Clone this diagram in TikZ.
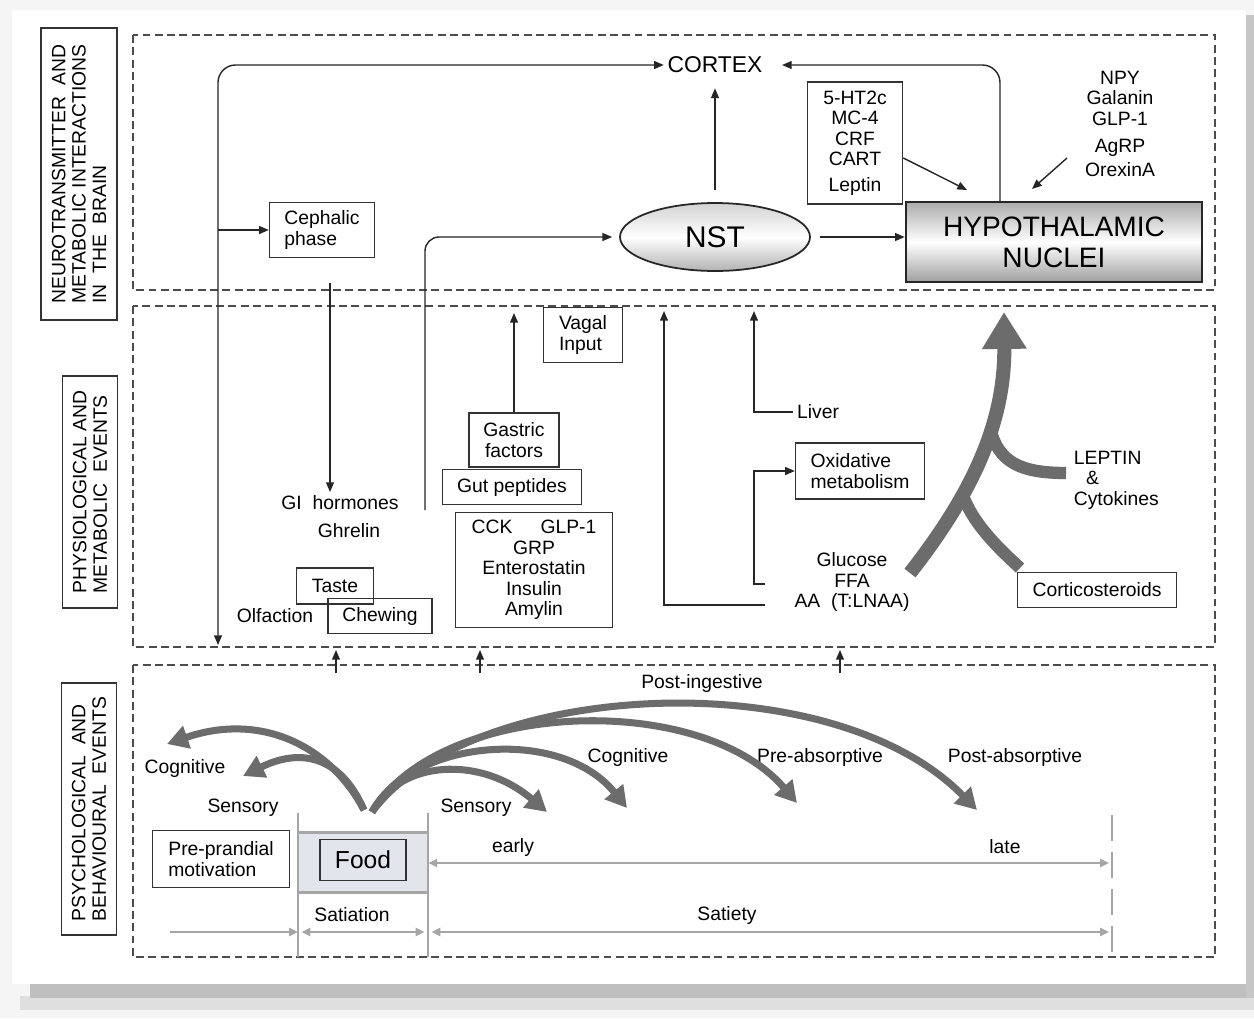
\documentclass[tikz,border=0pt]{standalone}
\usepackage{fontspec}
\setmainfont{Liberation Sans}
\usetikzlibrary{arrows.meta,shapes.geometric}

\definecolor{arrgray}{RGB}{108,108,108}
\definecolor{bandfill}{RGB}{226,229,236}
\newcommand{\lblfont}{\fontsize{11}{11.6}\selectfont}

\begin{document}
\begin{tikzpicture}[
  x=0.02cm, y=-0.02cm,
  panel/.style={draw=black!70, line width=0.7pt, dash pattern=on 4.5pt off 2.5pt},
  sect/.style={draw=black!80, line width=0.9pt, rotate=90, align=left, font=\lblfont, inner sep=2pt},
  box/.style={draw=black!80, line width=0.8pt, align=center, font=\lblfont, inner sep=2pt},
  lbl/.style={font=\lblfont, align=center, inner sep=2pt},
  conn/.style={draw=black!85, line width=0.8pt, -{Triangle[length=5.5pt,width=4.5pt]}},
  bigarr/.style={draw=arrgray, line width=4pt, -{Triangle[length=12pt,width=13pt]}},
  tline/.style={draw=gray!70, line width=1.3pt},
  tick/.style={draw=gray!70, line width=0.9pt}
]
\useasboundingbox (0,0) rectangle (1254,1018);

% ---- page frame ----
\fill[gray!8] (0,0) rectangle (1254,1018);
\fill[gray!25] (20,996) rectangle (1254,1010);
\fill[gray!50] (30,984) rectangle (1254,998);
\fill[gray!45] (1246,15) rectangle (1254,998);
\fill[white] (12,10) rectangle (1246,984);

% ---- panels ----
\draw[panel] (133,35) rectangle (1215,290);
\draw[panel] (133,306) rectangle (1215,647);
\draw[panel] (133,665) rectangle (1215,957);

\node[sect, minimum width=5.84cm, minimum height=1.52cm] (secbrain) at (79,174)
  {NEUROTRANSMITTER\ \ AND\\METABOLIC INTERACTIONS\\IN\ \ THE\ \ BRAIN};
\node[sect, minimum width=4.64cm, minimum height=1.1cm] (secphys) at (90,492)
  {PHYSIOLOGICAL AND\\METABOLIC\ \ EVENTS};
\node[sect, minimum width=5.04cm, minimum height=1.1cm] (secpsy) at (89,809)
  {PSYCHOLOGICAL\ \ AND\\BEHAVIOURAL\ \ EVENTS};

% ---- TOP: brain ----
\node[font=\fontsize{13}{14}\selectfont, inner sep=2pt] (cortex) at (715,65) {CORTEX};
\node[box, align=left, minimum width=2.1cm, minimum height=1.1cm] (ceph) at (322,230) {Cephalic\\phase};
\node[box, minimum width=1.9cm, minimum height=2.44cm] (hts) at (855,143)
  {5-HT2c\\MC-4\\CRF\\CART\\[3pt]Leptin};
\node[lbl] (npy) at (1120,124) {NPY\\Galanin\\GLP-1\\[4pt]AgRP\\[2pt]OrexinA};
\node[ellipse, draw=black!85, line width=1pt, minimum width=3.8cm, minimum height=1.36cm,
  top color=gray!35, bottom color=gray!60, middle color=white,
  font=\fontsize{17}{18}\selectfont] (nst) at (715,237) {NST};
\node[draw=black!85, line width=1.5pt, minimum width=5.92cm, minimum height=1.6cm,
  top color=gray!65, bottom color=gray!75, middle color=white, align=center,
  font=\fontsize{16}{17.5}\selectfont] (hypo) at (1054,242) {HYPOTHALAMIC\\NUCLEI};

% ---- MIDDLE: physiology ----
\node[box, align=left, minimum width=1.58cm, minimum height=1.1cm] (vagal) at (583,335) {Vagal\\Input};
\node[box, minimum width=1.8cm, minimum height=1.08cm] (gastric) at (514,440) {Gastric\\factors};
\node[box, minimum width=2.78cm, minimum height=0.7cm] (gut) at (512,487) {Gut peptides};
\node[box, minimum width=3.14cm, minimum height=2.3cm] (cck) at (534,570)
  {CCK\hspace{16pt}GLP-1\\GRP\\Enterostatin\\Insulin\\Amylin};
\node[lbl] (gi) at (340,503) {GI\ \ hormones};
\node[lbl] (ghrelin) at (349,531) {Ghrelin};
\node[box, minimum width=1.54cm, minimum height=0.72cm] (taste) at (335,586) {Taste};
\node[box, minimum width=2.08cm, minimum height=0.7cm] (chew) at (380,616) {Chewing};
\node[lbl] (olf) at (275,616) {Olfaction};
\node[lbl] (liver) at (818,412) {Liver};
\node[box, align=left, minimum width=2.58cm, minimum height=1.12cm] (oxid) at (860,471) {Oxidative\\metabolism};
\node[lbl] (fuel) at (852,582) {Glucose\\FFA\\AA\ \ (T:LNAA)};
\node[lbl, align=left, anchor=west] (leptin) at (1070,480) {LEPTIN\\\hspace{7pt}\&\\Cytokines};
\node[box, minimum width=3.18cm, minimum height=0.7cm] (cortico) at (1097,590) {Corticosteroids};

% ---- BOTTOM: behaviour ----
\node[box, align=left, minimum width=2.74cm, minimum height=1.14cm] (prep) at (221,859) {Pre-prandial\\motivation};
\node[fill=bandfill, minimum width=2.6cm, minimum height=1.18cm, inner sep=0pt] (band) at (363,862.5) {};
\draw[gray!70, line width=1.5pt] (band.north west) -- (band.north east) (band.south west) -- (band.south east);
\node[box, line width=1pt, font=\fontsize{14}{15}\selectfont, minimum width=1.72cm, minimum height=0.82cm] (food) at (363,860) {Food};

\node[lbl] (sensL) at (243,808) {Sensory};
\node[lbl] (sensR) at (476,808) {Sensory};
\node[lbl] (cogL) at (185,768) {Cognitive};
\node[lbl] (cogR) at (628,757) {Cognitive};
\node[lbl] (preabs) at (820,757) {Pre-absorptive};
\node[lbl] (postabs) at (1015,757) {Post-absorptive};
\node[lbl] (posting) at (702,683) {Post-ingestive};
\node[lbl] (early) at (513,847) {early};
\node[lbl] (late) at (1005,847) {late};
\node[lbl] (satn) at (352,915) {Satiation};
\node[lbl] (saty) at (727,915) {Satiety};

% ---- connectors: top ----
\coordinate (leftbot) at (218,645);
\coordinate (leftceph) at (218,230);
\coordinate (cephlow) at (330,283);
\coordinate (hyptop) at (1000,201);
\coordinate (htsin) at (967,190);
\coordinate (npyout) at (1067,158);
\coordinate (npyin) at (1032,189);
\draw[conn, {Triangle[length=5.5pt,width=4.5pt]}-{Triangle[length=5.5pt,width=4.5pt]}, rounded corners=10pt]
  (leftbot) |- (cortex.west);
\draw[conn] (leftceph) -- (ceph.west);
\draw[conn] (cephlow) -- (cephlow |- gi.north);
\draw[conn, shorten <=7pt, shorten >=6.5pt] (nst.north) -- (cortex.south);
\draw[conn, shorten <=5pt] (nst.east) -- (nst.east -| hypo.west);
\draw[conn, rounded corners=10pt, shorten >=9pt] (hyptop) |- (cortex.east);
\draw[conn] ([yshift=-8.5pt]hts.east) -- (htsin);
\draw[conn] (npyout) -- (npyin);

% ---- connectors: middle ----
\coordinate (gastop) at (512,313);
\coordinate (nstfeed) at (425,510);
\coordinate (fuelA) at (765,605);
\coordinate (aatop) at (664,311);
\coordinate (livtop) at (754,311);
\coordinate (fuelG) at (765,584);
\draw[conn] (gastric.north) -- (gastric.north |- gastop);
\draw[conn, rounded corners=8pt, shorten >=4pt] (nstfeed) |- (nst.west);
\draw[conn] (fuelA) -| (aatop);
\draw[conn] (liver.west) -| (livtop);
\draw[conn] (fuelG) -- ++(-11,0) |- (oxid.west);

% big grey arrow to the hypothalamus
\coordinate (bigfoot) at (910,573);
\coordinate (hyptail) at (1004,312);
\coordinate (lepfoot) at (1066,473);
\coordinate (corfoot) at (1020,568);
\draw[draw=arrgray, line width=8pt, -{Triangle[length=21pt,width=24pt]}]
  (bigfoot) .. controls (975,490) and (1005,420) .. (hyptail);
\draw[arrgray, line width=7pt] (lepfoot) .. controls (1020,473) and (998,462) .. (990,428);
\draw[arrgray, line width=7pt] (corfoot) .. controls (995,545) and (972,522) .. (962,493);

% small arrows between panels
\coordinate (upa0) at (336,673); \coordinate (upa1) at (336,650);
\coordinate (upb0) at (480,673); \coordinate (upb1) at (480,650);
\coordinate (upc0) at (840,673); \coordinate (upc1) at (840,650);
\draw[conn] (upa0) -- (upa1);
\draw[conn] (upb0) -- (upb1);
\draw[conn] (upc0) -- (upc1);

% ---- connectors: bottom ----
\coordinate (apexL) at (364,810);
\coordinate (apexR) at (372,812);
\coordinate (tipCogL1) at (167,744);
\coordinate (tipCogL2) at (243,776);
\coordinate (tipSens) at (547,812);
\coordinate (tipCog) at (627,808);
\coordinate (tipPre) at (797,803);
\coordinate (tipPost) at (977,810);
\draw[bigarr] (apexL) .. controls (330,745) and (260,712) .. (tipCogL1);
\draw[bigarr] (apexL) .. controls (340,755) and (300,748) .. (tipCogL2);
\draw[bigarr] (apexR) .. controls (400,760) and (480,755) .. (tipSens);
\draw[bigarr] (apexR) .. controls (410,740) and (560,725) .. (tipCog);
\draw[bigarr] (apexR) .. controls (440,700) and (700,690) .. (tipPre);
\draw[bigarr] (apexR) .. controls (470,680) and (830,660) .. (tipPost);

% time lines
\coordinate (tk1a) at (298,813); \coordinate (tk1b) at (298,957);
\coordinate (tk2a) at (428,813); \coordinate (tk2b) at (428,957);
\coordinate (tk3a) at (1112,815); \coordinate (tk3b) at (1112,957);
\draw[tick] (tk1a) -- (tk1b);
\draw[tick] (tk2a) -- (tk2b);
\draw[tick, dash pattern=on 15pt off 6pt] (tk3a) -- (tk3b);

\coordinate (tlstart) at (170,932);
\coordinate (tlend) at (1109,932);
\coordinate (earlyend) at (1109,863);
\draw[tline, {Triangle[length=5pt,width=4.5pt]}-{Triangle[length=5pt,width=4.5pt]}] (band.east |- earlyend) -- (earlyend);
\draw[tline, -{Triangle[length=5pt,width=4.5pt]}] (tlstart) -- (tk1b |- tlstart);
\draw[tline, {Triangle[length=5pt,width=4.5pt]}-{Triangle[length=5pt,width=4.5pt]}, shorten <=2pt, shorten >=2pt]
  (tk1b |- tlstart) -- (tk2b |- tlstart);
\draw[tline, {Triangle[length=5pt,width=4.5pt]}-{Triangle[length=5pt,width=4.5pt]}, shorten <=2pt]
  (tk2b |- tlstart) -- (tlend);
\end{tikzpicture}
\end{document}
